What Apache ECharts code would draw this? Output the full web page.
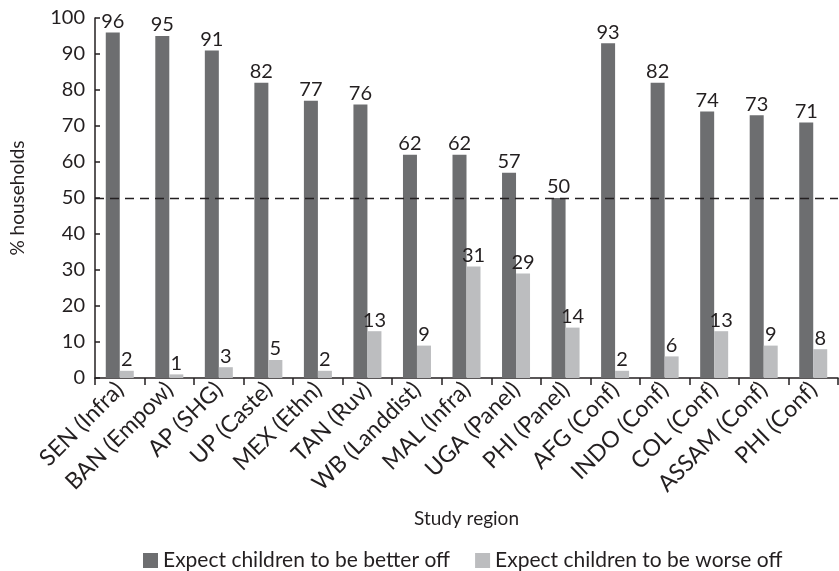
<!DOCTYPE html>
<html><head><meta charset="utf-8">
<script src="https://cdn.jsdelivr.net/npm/echarts@6/dist/echarts.min.js"></script>
<style>html,body{margin:0;padding:0;background:#fff}#c{width:839px;height:571px}</style>
</head><body><div id="c"></div>
<script>
const categories = ["SEN (Infra)","BAN (Empow)","AP (SHG)","UP (Caste)","MEX (Ethn)","TAN (Ruv)","WB (Landdist)","MAL (Infra)","UGA (Panel)","PHI (Panel)","AFG (Conf)","INDO (Conf)","COL (Conf)","ASSAM (Conf)","PHI (Conf)"];
const betterOff = [96,95,91,82,77,76,62,62,57,50,93,82,74,73,71];
const worseOff = [2,1,3,5,2,13,9,31,29,14,2,6,13,9,8];
const yTicks = [0,10,20,30,40,50,60,70,80,90,100];
const seriesNames = ["Expect children to be better off","Expect children to be worse off"];
const refLine = 50;

const FONT = 'Lato';
const TXT = '#231f20';
const chart = echarts.init(document.getElementById('c'));
chart.setOption({
  animation:false,
  textStyle:{fontFamily:FONT,color:TXT},
  grid:{left:91,right:1,top:18,bottom:193,containLabel:false},
  legend:{top:550,left:143,itemWidth:15,itemHeight:15,itemGap:25,icon:'rect',padding:0,
    textStyle:{fontFamily:FONT,fontSize:21,color:TXT},data:seriesNames},
  xAxis:{type:'category',data:categories,name:'Study region',nameLocation:'middle',nameGap:131,
    nameTextStyle:{fontFamily:FONT,fontSize:19,color:TXT},
    axisLine:{lineStyle:{color:TXT,width:1.5}},
    axisTick:{show:true,length:7,lineStyle:{color:TXT,width:1.5}},
    axisLabel:{rotate:45,fontSize:23,color:TXT,margin:8,interval:0,fontFamily:FONT}},
  yAxis:{type:'value',min:0,max:100,interval:10,name:'% households',nameLocation:'middle',nameGap:68,
    nameTextStyle:{fontFamily:FONT,fontSize:19,color:TXT},
    axisLine:{show:true,lineStyle:{color:TXT,width:1.5}},
    axisTick:{show:true,inside:true,length:5,lineStyle:{color:TXT,width:1.5}},
    splitLine:{show:false},
    axisLabel:{fontSize:20,color:TXT,margin:10,fontFamily:FONT}},
  series:[
    {name:seriesNames[0],type:'bar',data:betterOff,barWidth:14,barGap:'0%',
     itemStyle:{color:'#6d6e70'},
     label:{show:true,position:'top',distance:1,fontSize:20,color:TXT,fontFamily:FONT},
     markLine:{symbol:'none',silent:true,label:{show:false},
       lineStyle:{color:'#231f20',type:[9,6],width:1.3},data:[{yAxis:refLine}]}},
    {name:seriesNames[1],type:'bar',data:worseOff,barWidth:14,
     itemStyle:{color:'#bcbdbf'},
     label:{show:true,position:'top',distance:1,fontSize:20,color:TXT,fontFamily:FONT}}
  ]
});
</script></body></html>
